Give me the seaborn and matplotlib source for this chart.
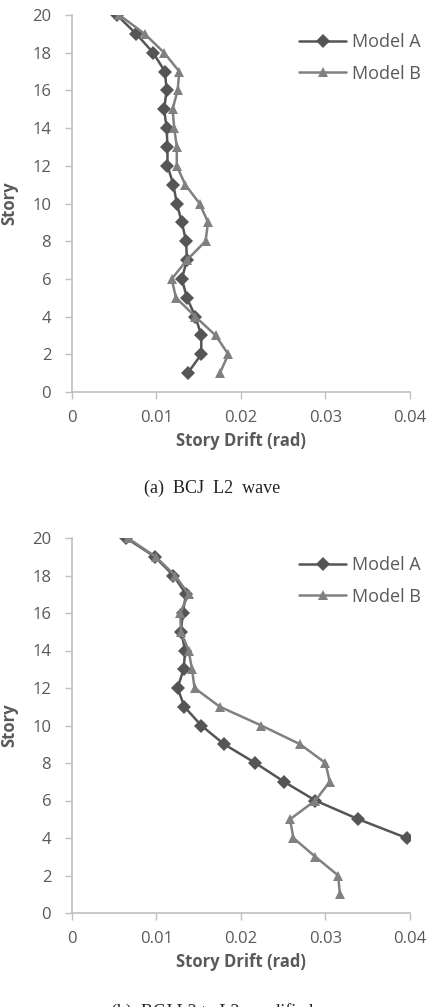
import pandas as pd
import matplotlib
matplotlib.use("Agg")
import matplotlib.pyplot as plt
import seaborn as sns

# (a) BCJ L2 wave, stories 20 -> 1
stories_a = list(range(20, 0, -1))
drift_a_model_a = [0.0053, 0.0076, 0.0096, 0.0110, 0.0112, 0.0109, 0.0112, 0.0113, 0.0113, 0.0120,
                   0.0124, 0.0130, 0.0135, 0.0136, 0.0130, 0.0136, 0.0146, 0.0153, 0.0153, 0.0137]
drift_a_model_b = [0.0056, 0.0086, 0.0109, 0.0127, 0.0125, 0.0119, 0.0121, 0.0124, 0.0124, 0.0134,
                   0.0151, 0.0161, 0.0158, 0.0136, 0.0118, 0.0123, 0.0146, 0.0170, 0.0185, 0.0175]

# (b) Model A runs off the axis below story 4
stories_b_model_a = list(range(20, 3, -1))
drift_b_model_a = [0.0064, 0.0098, 0.0120, 0.0135, 0.0131, 0.0129, 0.0134, 0.0132, 0.0125,
                   0.0133, 0.0153, 0.0180, 0.0217, 0.0251, 0.0288, 0.0339, 0.0396]
stories_b_model_b = list(range(20, 0, -1))
drift_b_model_b = [0.0066, 0.0099, 0.0122, 0.0138, 0.0128, 0.0129, 0.0138, 0.0142, 0.0145,
                   0.0175, 0.0224, 0.0270, 0.0300, 0.0305, 0.0288, 0.0258, 0.0262, 0.0288, 0.0315, 0.0317]

x_ticks = [0, 0.01, 0.02, 0.03, 0.04]
x_tick_labels = ["0", "0.01", "0.02", "0.03", "0.04"]
y_ticks = list(range(0, 21, 2))

df_a = pd.concat([
    pd.DataFrame({"drift": drift_a_model_a, "story": stories_a, "Model": "Model A"}),
    pd.DataFrame({"drift": drift_a_model_b, "story": stories_a, "Model": "Model B"}),
])
df_b = pd.concat([
    pd.DataFrame({"drift": drift_b_model_a, "story": stories_b_model_a, "Model": "Model A"}),
    pd.DataFrame({"drift": drift_b_model_b, "story": stories_b_model_b, "Model": "Model B"}),
])

sns.set_style("white")
plt.rcParams["font.family"] = ["Open Sans", "DejaVu Sans"]

W, H = 427, 1007
fig = plt.figure(figsize=(W / 100, H / 100), dpi=100)

palette = {"Model A": "#555555", "Model B": "#808080"}
markers = {"Model A": "D", "Model B": "^"}
tick_color = "#595959"
spine_color = "#bfbfbf"


def draw(df, top_px, bottom_px, caption, caption_y):
    ax = fig.add_axes([72 / W, 1 - bottom_px / H, 338 / W, (bottom_px - top_px) / H])
    sns.lineplot(data=df, x="drift", y="story", hue="Model", style="Model",
                 markers=markers, dashes=False, palette=palette, sort=False,
                 estimator=None, linewidth=1.8, markersize=7, markeredgewidth=0,
                 ax=ax)
    ax.set_xlim(0, 0.04)
    ax.set_ylim(0, 20)
    ax.set_xticks(x_ticks)
    ax.set_xticklabels(x_tick_labels)
    ax.set_yticks(y_ticks)
    ax.tick_params(axis="both", colors=spine_color, labelcolor=tick_color,
                   labelsize=12, length=5, width=1, direction="out",
                   bottom=True, left=True)
    ax.tick_params(axis="y", pad=10)
    ax.tick_params(axis="x", pad=8)
    for s in ["top", "right"]:
        ax.spines[s].set_visible(False)
    for s in ["left", "bottom"]:
        ax.spines[s].set_color(spine_color)
        ax.spines[s].set_linewidth(1.2)
    ax.set_xlabel("Story Drift (rad)", fontsize=12, fontweight="bold",
                  color=tick_color, labelpad=4)
    ax.set_ylabel("Story", fontsize=12, fontweight="bold", color=tick_color,
                  labelpad=6)
    ax.yaxis.set_label_coords(-0.16, 0.5)
    handles, labels = ax.get_legend_handles_labels()
    ax.legend(handles, labels, loc="center left",
              bbox_to_anchor=(283 / W, 1 - (top_px + 43) / H),
              bbox_transform=fig.transFigure, frameon=False, fontsize=13,
              handlelength=2.6, handletextpad=0.3, labelspacing=0.75,
              labelcolor=tick_color)
    fig.text(212 / W, 1 - caption_y / H, caption, ha="center", va="center",
             fontsize=13, family="Liberation Serif", color="#222222")
    return ax


draw(df_a, 15, 392, "(a)  BCJ  L2  wave", 488)
draw(df_b, 538, 913, "(b)  BCJ L2 to L2  modified", 1012)

fig.savefig("out.png", dpi=100)
